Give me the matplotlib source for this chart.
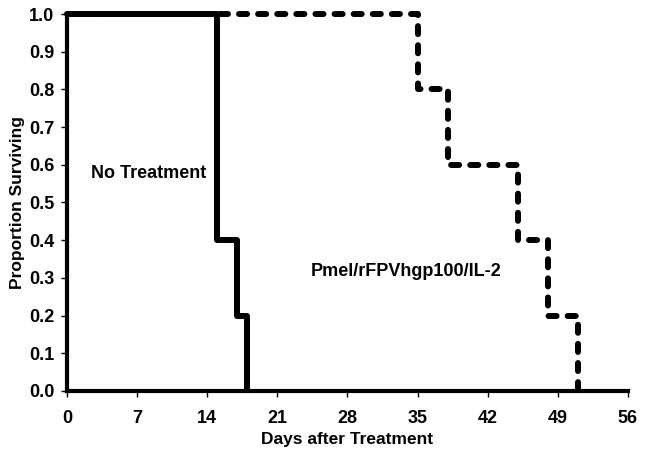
import matplotlib
matplotlib.use('Agg')
from matplotlib import pyplot as plt

plt.rcParams['font.family'] = ['Liberation Sans', 'DejaVu Sans']
plt.rcParams['font.weight'] = 'bold'

# survival step data
no_treat_days = [0, 15, 17, 18]
no_treat_surv = [1.0, 0.4, 0.2, 0.0]
pmel_days = [0, 35, 38, 45, 48, 51]
pmel_surv = [1.0, 0.8, 0.6, 0.4, 0.2, 0.0]

x_ticks = list(range(0, 57, 7))
y_ticks = [i / 10 for i in range(0, 11)]

fig = plt.figure(figsize=(6.48, 4.54), dpi=100)
ax = fig.add_axes([0.1034, 0.139, 0.8656, 0.830])

ax.step(no_treat_days, no_treat_surv, where='post', color='black', lw=4.3,
        solid_capstyle='butt', clip_on=False, zorder=3)
ax.step(pmel_days, pmel_surv, where='post', color='black', lw=4.3,
        linestyle=(0, (1.35, 1.85)), dash_capstyle='round', clip_on=False, zorder=3)

ax.text(2.4, 0.578, 'No Treatment', fontsize=13, fontweight='bold', va='center')
ax.text(24.3, 0.316, 'Pmel/rFPVhgp100/IL-2', fontsize=13, fontweight='bold', va='center')

ax.set_xlim(0, 56)
ax.set_ylim(0, 1.0)
ax.set_xticks(x_ticks)
ax.set_yticks(y_ticks)
ax.set_yticklabels(['%.1f' % v for v in y_ticks])
ax.tick_params(direction='out', length=4, width=1, labelsize=13)
ax.tick_params(axis='x', pad=10)
ax.tick_params(axis='y', pad=5)
for lab in ax.get_xticklabels() + ax.get_yticklabels():
    lab.set_fontweight('bold')

for side in ['top', 'right']:
    ax.spines[side].set_visible(False)
for side in ['left', 'bottom']:
    ax.spines[side].set_linewidth(3)

ax.set_xlabel('Days after Treatment', fontsize=12.5, fontweight='bold', labelpad=3)
ax.set_ylabel('Proportion Surviving', fontsize=12.5, fontweight='bold', labelpad=3)

fig.savefig('out.png', dpi=100)
